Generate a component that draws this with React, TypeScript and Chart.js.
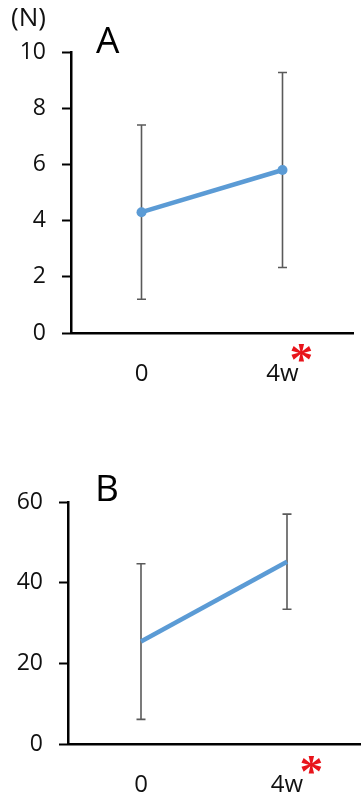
import React, { useEffect, useRef } from "react";
import { Chart, registerables } from "chart.js";
Chart.register(...registerables);

// ---- data ----
const categories = ["0", "4w"];
const meansA = [4.3, 5.8];
const errorsA = [3.1, 3.47];
const yTicksA = [0, 2, 4, 6, 8, 10];
const meansB = [25.4, 45.2];
const errorsB = [19.3, 11.8];
const yTicksB = [0, 20, 40, 60];
const unitLabel = "(N)";
const panelLabels = ["A", "B"];
const sigMark = "*";

const FONT = "'Open Sans', sans-serif";
const LINE_COLOR = "#5B9BD5";
const ERR_COLOR = "#5a5a5a";

type TextItem = {
  text: string;
  font: string;
  color: string;
  mode: "lt" | "c";
  x: number;
  y: number;
  fitH?: number;
};

function makeErrorPlugin(errors: number[]) {
  return {
    id: "errorBars",
    beforeDatasetsDraw(chart: any) {
      const meta = chart.getDatasetMeta(0);
      const yScale = chart.scales.y;
      const data = chart.data.datasets[0].data as number[];
      const ctx = chart.ctx as CanvasRenderingContext2D;
      const cap = 4.5;
      ctx.save();
      ctx.strokeStyle = ERR_COLOR;
      ctx.lineWidth = 1.6;
      meta.data.forEach((pt: any, i: number) => {
        const v = data[i];
        const yt = yScale.getPixelForValue(v + errors[i]);
        const yb = yScale.getPixelForValue(v - errors[i]);
        const x = pt.x;
        ctx.beginPath();
        ctx.moveTo(x, yt);
        ctx.lineTo(x, yb);
        ctx.moveTo(x - cap, yt);
        ctx.lineTo(x + cap, yt);
        ctx.moveTo(x - cap, yb);
        ctx.lineTo(x + cap, yb);
        ctx.stroke();
      });
      ctx.restore();
    },
  };
}

function makeTextPlugin(texts: TextItem[]) {
  return {
    id: "annotTexts",
    afterDraw(chart: any) {
      const ctx = chart.ctx as CanvasRenderingContext2D;
      ctx.save();
      ctx.textAlign = "left";
      ctx.textBaseline = "alphabetic";
      texts.forEach((t) => {
        let font = t.font;
        if (t.fitH) {
          ctx.font = font.replace("{S}", "100");
          const m0 = ctx.measureText(t.text);
          const h0 = m0.actualBoundingBoxAscent + m0.actualBoundingBoxDescent;
          const s = (100 * t.fitH) / (h0 || 100);
          font = font.replace("{S}", s.toFixed(1));
        }
        ctx.font = font;
        ctx.fillStyle = t.color;
        const m = ctx.measureText(t.text);
        const w = m.actualBoundingBoxLeft + m.actualBoundingBoxRight;
        const h = m.actualBoundingBoxAscent + m.actualBoundingBoxDescent;
        let dx: number, dy: number;
        if (t.mode === "lt") {
          dx = t.x + m.actualBoundingBoxLeft;
          dy = t.y + m.actualBoundingBoxAscent;
        } else {
          dx = t.x - w / 2 + m.actualBoundingBoxLeft;
          dy = t.y - h / 2 + m.actualBoundingBoxAscent;
        }
        ctx.fillText(t.text, dx, dy);
      });
      ctx.restore();
    },
  };
}

type PanelProps = {
  top: number;
  height: number;
  means: number[];
  errors: number[];
  yTicks: number[];
  areaLeft: number;
  areaRight: number;
  areaTop: number;
  areaBottom: number;
  showPoints: boolean;
  texts: TextItem[];
};

function Panel(p: PanelProps) {
  const ref = useRef<HTMLCanvasElement>(null);
  useEffect(() => {
    if (!ref.current) return;
    const step = p.yTicks[1] - p.yTicks[0];
    const chart = new Chart(ref.current, {
      type: "line",
      data: {
        labels: categories,
        datasets: [
          {
            data: p.means,
            borderColor: LINE_COLOR,
            backgroundColor: LINE_COLOR,
            borderWidth: 4.5,
            pointRadius: p.showPoints ? 5 : 0,
            pointBorderWidth: 0,
            pointBackgroundColor: LINE_COLOR,
            tension: 0,
            fill: false,
            clip: false as any,
          },
        ],
      },
      options: {
        animation: false,
        responsive: false,
        events: [],
        layout: {
          padding: { left: 0, right: 362 - p.areaRight, top: p.areaTop, bottom: 0 },
        },
        plugins: {
          legend: { display: false },
          tooltip: { enabled: false },
        },
        scales: {
          x: {
            type: "category",
            offset: true,
            grid: { display: false, drawTicks: false },
            border: { display: true, color: "#000", width: 2.5 },
            ticks: {
              padding: 27,
              color: "#111",
              font: { family: FONT, size: 24 },
              maxRotation: 0,
            },
            afterFit: (s: any) => {
              s.height = p.height - p.areaBottom;
            },
          },
          y: {
            min: p.yTicks[0],
            max: p.yTicks[p.yTicks.length - 1],
            ticks: {
              stepSize: step,
              padding: 16,
              color: "#111",
              font: { family: FONT, size: 23 },
            },
            grid: {
              drawOnChartArea: false,
              drawTicks: true,
              tickLength: 9,
              tickColor: "#000",
              tickWidth: 2,
            },
            border: { display: true, color: "#000", width: 2.5 },
            afterFit: (s: any) => {
              s.width = p.areaLeft;
            },
          },
        },
      } as any,
      plugins: [makeErrorPlugin(p.errors), makeTextPlugin(p.texts)],
    });
    return () => chart.destroy();
  }, []);
  return (
    <div style={{ position: "absolute", left: 0, top: p.top, width: 362, height: p.height }}>
      <canvas ref={ref} width={362} height={p.height} style={{ display: "block", width: 362, height: p.height }} />
    </div>
  );
}

export default function App() {
  return (
    <div
      style={{
        position: "absolute",
        left: 0,
        top: 0,
        width: 362,
        height: 809,
        background: "#fff",
        overflow: "hidden",
      }}
    >
      <Panel
        top={0}
        height={400}
        means={meansA}
        errors={errorsA}
        yTicks={yTicksA}
        areaLeft={71}
        areaRight={353}
        areaTop={52}
        areaBottom={333}
        showPoints={true}
        texts={[
          { text: unitLabel, font: `26px ${FONT}`, color: "#111", mode: "lt", x: 12, y: 8 },
          { text: panelLabels[0], font: `37px ${FONT}`, color: "#000", mode: "lt", x: 96, y: 27 },
          { text: sigMark, font: `bold {S}px 'Liberation Serif'`, color: "#e8141b", mode: "c", x: 301, y: 353, fitH: 18 },
        ]}
      />
      <Panel
        top={440}
        height={369}
        means={meansB}
        errors={errorsB}
        yTicks={yTicksB}
        areaLeft={68}
        areaRight={360}
        areaTop={62}
        areaBottom={304}
        showPoints={false}
        texts={[
          { text: panelLabels[1], font: `37px ${FONT}`, color: "#000", mode: "lt", x: 98, y: 35 },
          { text: sigMark, font: `bold {S}px 'Liberation Serif'`, color: "#e8141b", mode: "c", x: 311, y: 325, fitH: 18 },
        ]}
      />
    </div>
  );
}
